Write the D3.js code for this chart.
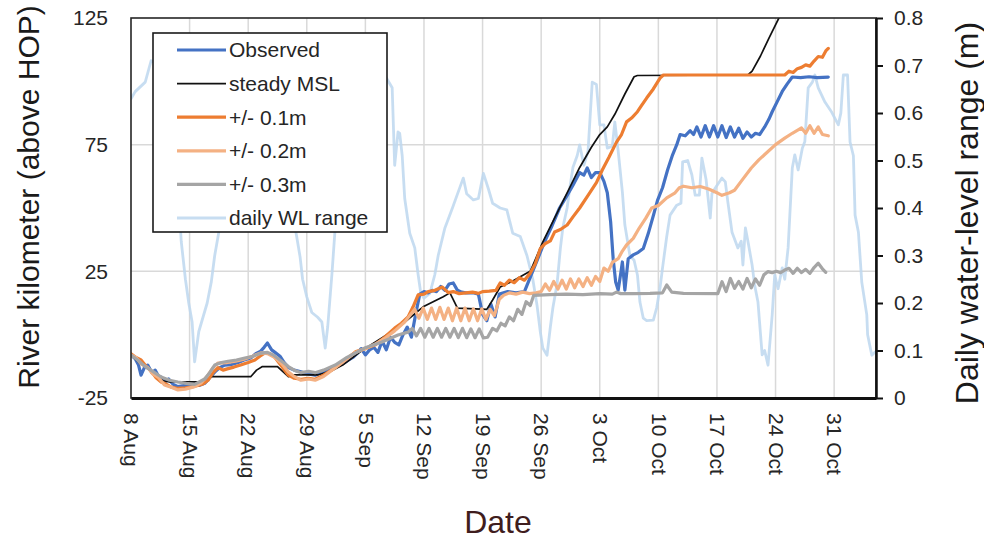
<!DOCTYPE html>
<html>
<head>
<meta charset="utf-8">
<script src="https://cdn.jsdelivr.net/npm/d3@7"></script>
<style>
  html, body { margin: 0; padding: 0; background: #fff; }
  svg { display: block; font-family: "Liberation Sans", Arial, sans-serif; }
</style>
</head>
<body>
<svg id="chart" width="984" height="544"></svg>
<script>
// Days are counted from 8 Aug; values are river kilometres above HOP
// (left axis) or daily water-level range in metres (right axis).

const xTickLabels = ["8 Aug", "15 Aug", "22 Aug", "29 Aug", "5 Sep", "12 Sep", "19 Sep",
                     "26 Sep", "3 Oct", "10 Oct", "17 Oct", "24 Oct", "31 Oct"];
const xTickDays = [0, 7, 14, 21, 28, 35, 42, 49, 56, 63, 70, 77, 84];
const leftTicks = [-25, 25, 75, 125];
const rightTicks = [0, 0.1, 0.2, 0.3, 0.4, 0.5, 0.6, 0.7, 0.8];

const observed = [
  [0,-8],[0.5,-9.5],[0.9,-12],[1.2,-16],[1.6,-13],[2,-12],[2.5,-15],[2.9,-14],[3.3,-16.5],[3.6,-16.7],
  [4.1,-18.7],[4.5,-17.5],[5,-19.5],[5.6,-20.5],[6.5,-20],[7.6,-19.6],[8.2,-20],[8.8,-19.2],[9.4,-17],
  [10,-14.8],[10.6,-13],[11.2,-12],[12,-11.8],[12.8,-11],[13.5,-10],[14.3,-9.2],[14.9,-7.5],[15.5,-6.5],
  [15.9,-5],[16.3,-3.3],[16.8,-6],[17.2,-7],[17.8,-8.5],[18.3,-11],[18.8,-13],[19.5,-14],[20.3,-14.7],
  [21.2,-15.5],[22,-16],[22.7,-15],[23.4,-14],[24,-13.5],[24.8,-12],[25.5,-11],[26,-10],[26.5,-9],
  [27,-7.5],[27.5,-5.5],[28,-8],[28.5,-6],[29,-5],[29.5,-7],[30,-2.5],[30.5,-6],[31,-1],[31.5,-3],
  [32,-4],[32.5,0],[33,3],[33.5,-1],[34,8],[34.5,16],[35,17],[35.5,16.5],[36,17.5],[36.5,17],[37,19],
  [37.5,17.5],[38,20],[38.5,20.4],[39,17.5],[39.5,16.8],[40,16.5],[41,16.5],[41.5,16],[42,8],[42.5,5.5],
  [43,12],[43.5,7],[44,16],[44.5,16.5],[45,17],[46,16.5],[47,17],[47.8,23.5],[48.6,30],[49.4,36.6],
  [50.3,43],[51.2,50],[52.1,55],[52.8,59],[53.6,64],[54.1,63],[54.5,65.8],[55,62],[55.5,64],[56,64],
  [56.5,60.5],[56.9,56],[57.3,44.5],[57.6,30],[57.9,20.8],[58.2,17.6],[58.5,24],[58.7,28.7],[59,17.6],
  [59.4,30],[60,31.5],[60.6,32.5],[61.2,34],[61.8,40],[62.4,47],[62.9,53],[63.5,58],[64.1,65],[64.7,71],
  [65.2,75],[65.6,79],[66.2,78.5],[66.8,80.5],[67.2,79],[67.6,82],[68.1,78],[68.6,82.5],[69.1,78],
  [69.6,82.5],[70.1,78],[70.6,82.5],[71.1,77.8],[71.6,82],[72.1,78],[72.6,81.5],[73.1,77.5],[73.6,80],
  [74.1,78],[74.6,79.5],[75.1,79],[75.7,82],[76.2,85],[76.6,88],[77.2,92],[77.8,96],[78.4,99],[79,101.7],
  [80,101.5],[81,101.8],[82,101.5],[83.3,101.7]
];

const steadyMSL = [
  [0,-8],[1,-11],[2,-13.5],[3,-16],[3.8,-18.2],[4.5,-18.6],[9,-18.6],[9.6,-16.6],[14.3,-16.6],[15,-14],
  [15.7,-12.6],[17.5,-12.6],[18.8,-16.6],[19.5,-15.9],[22.3,-15.9],[23.8,-14.5],[25.3,-12],[27.7,-6],
  [30.1,-1],[31.5,2],[33,5.8],[34.9,11],[37.3,15],[38.1,16.5],[39,10.5],[42.5,10],[43.2,13.7],[44.1,18.8],
  [45.5,21],[47.3,24.3],[47.7,25],[49.2,36.6],[50.6,46],[52.1,56],[53.6,66],[55,74],[56,79],[56.9,82],
  [57.8,87],[59,95],[60.1,101.8],[60.5,102.3],[73.7,102.5],[74.2,104],[75.2,110],[76.2,117],[77.4,125],
  [77.7,127]
];

const plus01 = [
  [0,-7.5],[0.6,-9],[1.2,-10],[1.8,-12.5],[2.3,-14],[3,-17],[3.6,-18.7],[4.2,-19.5],[4.8,-20.7],[5.5,-21.2],
  [6.5,-21],[7.3,-20.6],[8,-20],[8.6,-19.5],[9.2,-18],[9.8,-15],[10.4,-13],[11,-14],[11.5,-13.5],
  [12.3,-12.8],[13.1,-12],[14,-11],[14.8,-10],[15.4,-8.5],[16,-7.2],[16.6,-7.5],[17.2,-9],[18,-12.5],
  [18.8,-16],[19.5,-17.2],[20.3,-17.6],[21.2,-17.2],[22,-17.6],[23,-16],[24.4,-13],[25.6,-10],[26.8,-6.8],
  [28,-5.5],[29.2,-4],[30.3,-1],[31.5,2.6],[32.3,4.5],[33.1,7],[33.7,11],[34.3,15.7],[35,16],[35.5,17],
  [36.3,17.5],[37.2,18.8],[37.9,16.6],[38.5,17],[39.2,16.2],[40,16.5],[40.8,16.8],[41.5,16.3],[42,17],
  [42.8,17.2],[43.6,17.5],[44.1,20.4],[44.6,19.5],[45.2,21.5],[45.8,20.5],[46.4,22.5],[47,21.5],[47.7,24.3],
  [48.3,28],[48.9,34],[49.5,36],[50.1,37],[50.6,40.5],[51.3,41.5],[52.1,43.3],[52.8,46.5],[53.6,50],
  [54.6,55],[55.6,60],[56.3,65],[57.1,70],[58,76],[58.6,79],[59.2,84],[59.8,85.5],[60.5,88],[61,90.5],
  [61.6,93.4],[62.4,97],[63.2,101.3],[63.6,102.5],[70,102.5],[78.1,102.5],[78.6,104],[79.1,103.5],
  [79.6,105],[80.1,105.5],[80.6,106.5],[81.1,106],[81.6,108],[82.1,109.8],[82.6,109.5],[83,112],[83.3,113]
];

const plus02 = [
  [0,-8],[0.6,-9],[1.2,-11.5],[2,-13],[2.6,-15.5],[3.3,-17],[4,-19.9],[4.6,-20.5],[5.6,-21.8],[6.5,-21.5],
  [7.6,-20.5],[8.4,-19],[9.2,-16],[9.8,-13],[10.4,-11.2],[11.5,-11],[12.5,-10.5],[13.5,-9.7],[14.5,-8.5],
  [15.5,-7.2],[16.3,-7.5],[17.2,-9],[18,-11.5],[18.8,-14.7],[19.5,-16.5],[20.3,-18],[21.2,-17.5],[22,-18],
  [23,-16.5],[24.4,-13],[25.6,-10],[26.8,-7],[28,-5.5],[29,-4],[30.3,-1.5],[31.5,1.5],[32.7,5],[33.9,10],
  [34.4,6.5],[34.9,10.5],[35.4,6],[35.9,10.5],[36.4,6],[36.9,10.8],[37.4,6],[37.9,10.5],[38.4,5.5],
  [38.9,10.5],[39.4,5.5],[39.9,10.5],[40.4,5.5],[40.9,10.2],[41.4,5.5],[41.9,10.2],[42.4,6],[42.9,10],[43.4,7.5],
  [44,14],[44.5,15.5],[45.2,16.5],[46,16],[46.8,16.8],[47.6,16.2],[48.4,16.5],[49,17],[49.5,20],[50,17.5],
  [50.5,21],[51,18],[51.5,21.5],[52,18],[52.5,22],[53,18.5],[53.5,22],[54,19],[54.5,22.5],[55,19.5],
  [55.5,23],[56,21],[56.5,26.3],[57,25],[57.5,28.5],[58.2,30],[58.7,33],[59.2,35.4],[60,38],[60.7,42],
  [61.5,46],[62.2,50],[63,51],[64,54],[65,56],[65.5,58],[66,58.6],[67,58],[68,58.5],[69,57.5],[70,56],
  [70.6,55],[71.5,56],[72.1,57],[73,61],[74.1,65.8],[75,69],[76,72],[77,75],[78.1,77.6],[79,79.5],
  [80.1,81.6],[80.6,79.5],[81.1,82.5],[81.6,79.5],[82.1,82],[82.6,79],[83.3,78.5]
];

const plus03 = [
  [0,-8],[0.8,-10],[1.7,-12.6],[2.6,-14.5],[3.6,-16.7],[4.6,-18],[5.6,-18.7],[6.6,-19.2],[7.6,-19.6],
  [8.8,-17.5],[9.4,-15],[10,-12],[10.8,-11],[11.6,-10.5],[12.6,-10],[13.6,-9.2],[14.6,-8.5],[15.5,-7.3],
  [16.3,-7],[17,-8],[17.6,-9.5],[18.2,-11],[18.8,-12.6],[19.5,-14],[20.3,-15],[21.2,-14.5],[22,-15],
  [23,-14],[24.4,-12],[25.8,-9],[27.9,-5.3],[29.9,-3],[31.9,-0.1],[33.1,1],[33.6,2.5],[34.1,-0.5],
  [34.6,2.5],[35.1,-1],[35.6,2.5],[36.1,-1],[36.6,2.5],[37.1,-1],[37.6,2.5],[38.1,-1],[38.6,2.5],
  [39.1,-1.2],[39.6,2.5],[40.1,-1.2],[40.6,2.3],[41.1,-1.2],[41.6,2.3],[42.1,-1.3],[42.6,-1],[43.2,2.5],
  [43.7,1.5],[44.2,4.5],[44.7,3.5],[45.2,7],[45.7,5.5],[46.2,10],[46.7,8],[47.2,13],[47.7,11.5],
  [48.1,15.5],[50,15.8],[52,16],[54,15.8],[56,16.2],[57.5,16],[58,16.8],[58.5,16.2],[60,16.2],[62,16.3],
  [63.5,16.5],[64,19.6],[64.6,16.8],[66,16.3],[70.1,16.2],[70.6,20.9],[71.1,17],[71.6,22.2],[72.1,18.3],
  [72.6,21],[73.1,18],[73.6,22.2],[74.1,18.5],[74.6,22],[75.1,19.5],[75.6,23.6],[76.1,24.9],[76.6,24.5],
  [77.1,25],[77.6,24.5],[78.1,25.5],[78.6,26.2],[79.1,24.2],[79.6,26.2],[80.1,24.5],[80.6,25.8],
  [81.1,24.2],[81.6,26.5],[82.1,28.2],[82.6,26],[83,24.6]
];

const wlRange = [
  [0,0.63],[0.5,0.645],[1.7,0.665],[2.4,0.71],[3.5,0.70],[4.7,0.62],[5.6,0.45],[6.0,0.33],[6.5,0.25],
  [6.9,0.2],[7.3,0.16],[7.6,0.076],[8.1,0.14],[8.6,0.17],[9.1,0.2],[9.6,0.245],[10.0,0.30],[10.5,0.35],
  [10.9,0.45],[11.8,0.58],[14.2,0.6],[16.6,0.56],[19.0,0.45],[19.6,0.36],[20.2,0.297],[20.5,0.25],
  [21.0,0.213],[21.6,0.18],[22.3,0.17],[22.8,0.16],[23.2,0.105],[23.5,0.15],[24.0,0.26],[24.4,0.36],
  [25.6,0.5],[27.4,0.6],[29.2,0.65],[30.3,0.68],[31.2,0.653],[31.5,0.49],[31.9,0.56],[32.1,0.557],
  [32.4,0.51],[32.7,0.42],[33.3,0.347],[33.9,0.316],[34.3,0.26],[34.6,0.223],[35.0,0.21],[35.7,0.22],
  [36.3,0.26],[36.7,0.30],[37.5,0.358],[38.4,0.40],[39.3,0.444],[39.7,0.463],[40.1,0.43],[40.9,0.417],
  [41.5,0.42],[42.1,0.473],[42.7,0.44],[43.2,0.41],[44.1,0.40],[44.9,0.396],[45.6,0.347],[46.5,0.34],
  [47.3,0.30],[48.0,0.25],[48.5,0.196],[48.9,0.139],[49.2,0.105],[49.7,0.09],[50.1,0.15],[50.4,0.19],
  [50.9,0.24],[51.3,0.316],[51.6,0.36],[52.1,0.40],[52.4,0.44],[52.8,0.486],[53.3,0.51],[53.6,0.533],
  [54.1,0.49],[54.6,0.52],[55.1,0.665],[55.6,0.66],[56.0,0.575],[56.5,0.575],[56.9,0.526],[57.5,0.53],
  [57.8,0.581],[58.2,0.52],[58.7,0.434],[59.0,0.364],[59.6,0.30],[60.1,0.29],[60.5,0.259],[60.8,0.202],
  [61.2,0.168],[61.6,0.163],[62.4,0.164],[62.8,0.19],[63.2,0.232],[63.5,0.274],[64.0,0.34],[64.4,0.385],
  [65.2,0.406],[65.7,0.41],[65.9,0.497],[66.5,0.50],[67.0,0.47],[67.4,0.427],[67.9,0.427],[68.2,0.505],
  [68.7,0.46],[69.2,0.379],[69.4,0.43],[69.8,0.442],[70.6,0.463],[71.0,0.455],[71.3,0.413],[71.8,0.349],
  [72.5,0.316],[72.9,0.33],[73.1,0.28],[73.4,0.358],[73.7,0.33],[74.2,0.28],[74.5,0.238],[74.9,0.202],
  [75.4,0.091],[75.7,0.1],[76.1,0.069],[76.6,0.175],[76.9,0.259],[77.3,0.23],[77.8,0.274],[78.1,0.25],
  [78.5,0.316],[79.0,0.484],[79.3,0.512],[79.7,0.48],[80.2,0.526],[80.5,0.54],[80.9,0.653],[81.4,0.665],
  [81.7,0.68],[82.1,0.653],[82.9,0.623],[83.7,0.602],[84.5,0.575],[84.8,0.6],[85.1,0.68],[85.6,0.68],
  [85.9,0.539],[86.3,0.51],[86.5,0.385],[86.9,0.349],[87.3,0.244],[87.9,0.175],[88.0,0.133],[88.5,0.09],
  [88.9,0.097]
];

const seriesNames = ["Observed", "steady MSL", "+/- 0.1m", "+/- 0.2m", "+/- 0.3m", "daily WL range"];

// ---- layout ----
const plot = { left: 131, right: 876, top: 18, bottom: 398 };
const DAY = 864e5;
const start = Date.UTC(2016, 7, 8);
const toDate = d => new Date(start + d * DAY);

const x = d3.scaleUtc()
  .domain([toDate(0), toDate(89)])
  .range([plot.left, plot.right]);
const yL = d3.scaleLinear().domain([-25, 125]).range([plot.bottom, plot.top]);
const yR = d3.scaleLinear().domain([0, 0.8]).range([plot.bottom, plot.top]);

const series = [
  { name: seriesNames[5], data: wlRange,   color: "#bdd7ee", width: 2.8, axis: yR, opacity: 0.85 },
  { name: seriesNames[0], data: observed,  color: "#4472c4", width: 3.2, axis: yL, opacity: 1 },
  { name: seriesNames[1], data: steadyMSL, color: "#111111", width: 1.7, axis: yL, opacity: 1 },
  { name: seriesNames[2], data: plus01,    color: "#ed7d31", width: 3.2, axis: yL, opacity: 1 },
  { name: seriesNames[3], data: plus02,    color: "#f4b183", width: 3.2, axis: yL, opacity: 1 },
  { name: seriesNames[4], data: plus03,    color: "#a5a5a5", width: 3.2, axis: yL, opacity: 1 }
];

const svg = d3.select("#chart");

svg.append("defs").append("clipPath").attr("id", "plot-clip")
  .append("rect")
  .attr("x", plot.left).attr("y", plot.top)
  .attr("width", plot.right - plot.left).attr("height", plot.bottom - plot.top);

// ---- gridlines ----
const grid = svg.append("g").attr("class", "grid");
grid.selectAll("line.v")
  .data(xTickDays.slice(1))
  .join("line")
  .attr("class", "v")
  .attr("x1", d => x(toDate(d))).attr("x2", d => x(toDate(d)))
  .attr("y1", plot.top).attr("y2", plot.bottom)
  .attr("stroke", "#d9d9d9").attr("stroke-width", 1.5);
grid.selectAll("line.h")
  .data([25, 75])
  .join("line")
  .attr("class", "h")
  .attr("x1", plot.left).attr("x2", plot.right)
  .attr("y1", d => yL(d)).attr("y2", d => yL(d))
  .attr("stroke", "#d9d9d9").attr("stroke-width", 1.5);

// ---- series lines ----
const lines = svg.append("g").attr("clip-path", "url(#plot-clip)");
series.forEach(s => {
  const gen = d3.line()
    .x(d => x(toDate(d[0])))
    .y(d => s.axis(d[1]));
  lines.append("path")
    .datum(s.data)
    .attr("d", gen)
    .attr("fill", "none")
    .attr("stroke", s.color)
    .attr("stroke-width", s.width)
    .attr("stroke-opacity", s.opacity)
    .attr("stroke-linejoin", "round")
    .attr("stroke-linecap", "round");
});

// ---- frame ----
svg.append("rect")
  .attr("x", plot.left).attr("y", plot.top)
  .attr("width", plot.right - plot.left).attr("height", plot.bottom - plot.top)
  .attr("fill", "none").attr("stroke", "#262626").attr("stroke-width", 1.6);

// ---- axes ----
const tickFont = 21;
const textColor = "#262626";

const gL = svg.append("g")
  .attr("transform", `translate(${plot.left},0)`)
  .call(d3.axisLeft(yL).tickValues(leftTicks).tickSize(0).tickPadding(23).tickFormat(d => String(d)));
gL.select(".domain").remove();
gL.selectAll("text").attr("font-size", tickFont).attr("fill", textColor)
  .attr("font-family", "Liberation Sans, Arial, sans-serif");

const gR = svg.append("g")
  .attr("transform", `translate(${plot.right},0)`)
  .call(d3.axisRight(yR).tickValues(rightTicks).tickSize(7).tickSizeOuter(0).tickPadding(11)
    .tickFormat(d => d === 0 ? "0" : d.toFixed(1)));
gR.select(".domain").attr("stroke", "#111").attr("stroke-width", 2.5);
gR.selectAll(".tick line").attr("stroke", "#111").attr("stroke-width", 2);
gR.selectAll("text").attr("font-size", tickFont).attr("fill", textColor)
  .attr("font-family", "Liberation Sans, Arial, sans-serif");

const gB = svg.append("g")
  .attr("transform", `translate(0,${plot.bottom})`)
  .call(d3.axisBottom(x).tickValues(xTickDays.map(toDate)).tickSize(0)
    .tickFormat((d, i) => xTickLabels[i]));
gB.select(".domain").attr("stroke", "#111").attr("stroke-width", 3);
gB.selectAll("text")
  .attr("transform", "rotate(90)")
  .attr("x", 15).attr("y", 0).attr("dy", "0.35em")
  .attr("text-anchor", "start")
  .attr("font-size", tickFont).attr("fill", textColor)
  .attr("font-family", "Liberation Sans, Arial, sans-serif");

// ---- axis titles ----
svg.append("text")
  .attr("transform", "translate(39,197) rotate(-90)")
  .attr("text-anchor", "middle")
  .attr("font-size", 30).attr("fill", "#1a1a1a")
  .text("River kilometer (above HOP)");
svg.append("text")
  .attr("transform", "translate(978,213) rotate(-90)")
  .attr("text-anchor", "middle")
  .attr("font-size", 32).attr("fill", "#1a1a1a")
  .text("Daily water-level range (m)");
svg.append("text")
  .attr("x", 498).attr("y", 533)
  .attr("text-anchor", "middle")
  .attr("font-size", 32).attr("fill", "#3f1d1d")
  .text("Date");

// ---- legend ----
const legend = svg.append("g");
legend.append("rect")
  .attr("x", 153).attr("y", 33).attr("width", 234).attr("height", 199)
  .attr("fill", "#fff").attr("stroke", "#1a1a1a").attr("stroke-width", 1.6);
const legendOrder = [1, 2, 3, 4, 5, 0];
legendOrder.forEach((si, i) => {
  const s = series[si];
  const y = 50 + i * 33.6;
  legend.append("line")
    .attr("x1", 177).attr("x2", 226).attr("y1", y).attr("y2", y)
    .attr("stroke", s.color).attr("stroke-width", s.width)
    .attr("stroke-opacity", s.opacity);
  legend.append("text")
    .attr("x", 229).attr("y", y).attr("dy", "0.35em")
    .attr("font-size", 21).attr("fill", textColor)
    .text(s.name);
});
</script>
</body>
</html>
